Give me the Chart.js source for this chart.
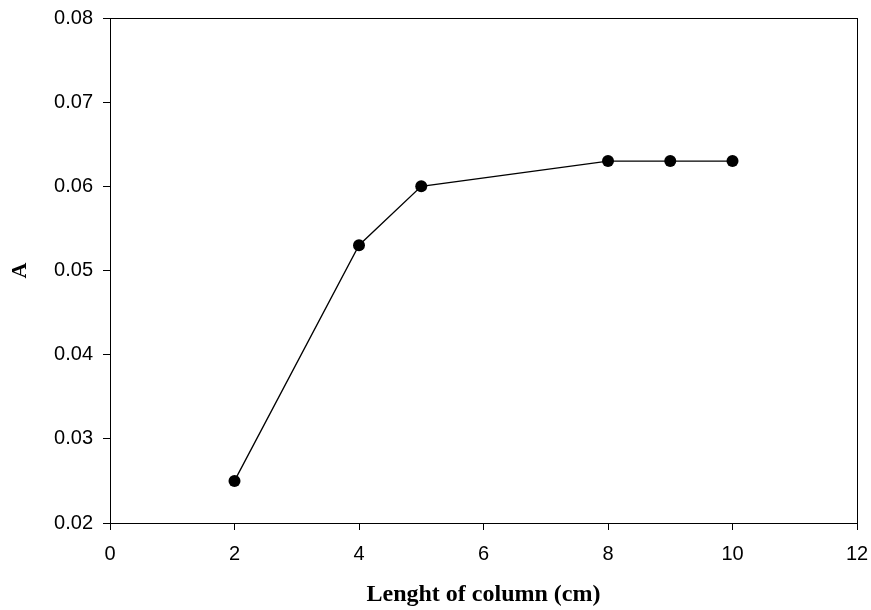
<!DOCTYPE html>
<html>
<head>
<meta charset="utf-8">
<script src="https://cdn.jsdelivr.net/npm/chart.js@4"></script>
<style>
  html, body { margin: 0; padding: 0; background: #fff; }
  #wrap { width: 871px; height: 610px; position: relative; }
</style>
</head>
<body>
<div id="wrap"><canvas id="chart"></canvas></div>
<script>
// Column length (cm) and measured absorbance A
const columnLength = [2, 4, 5, 8, 9, 10];
const absorbance = [0.025, 0.053, 0.060, 0.063, 0.063, 0.063];

const xTitle = 'Lenght of column (cm)';
const yTitle = 'A';

// Frame around the plot area (top and right sides included)
const frame = {
  id: 'frame',
  afterDraw(chart) {
    const { ctx, chartArea: a } = chart;
    ctx.save();
    ctx.strokeStyle = '#000';
    ctx.lineWidth = 1;
    ctx.strokeRect(Math.round(a.left) + 0.5, Math.round(a.top) + 0.5,
                   Math.round(a.right - a.left), Math.round(a.bottom - a.top));
    ctx.restore();
  }
};

const tickFont = { family: '"Liberation Sans", Arial, sans-serif', size: 20 };
const titleFont = { family: '"Liberation Serif", "Times New Roman", serif', size: 24, weight: 'bold' };
const yTitleFont = { family: '"Liberation Serif", "Times New Roman", serif', size: 22, weight: 'bold' };

new Chart(document.getElementById('chart'), {
  type: 'scatter',
  data: {
    datasets: [{
      data: columnLength.map((x, i) => ({ x, y: absorbance[i] })),
      showLine: true,
      borderColor: '#000',
      borderWidth: 1.3,
      backgroundColor: '#000',
      pointRadius: 6,
      pointHoverRadius: 6,
      pointBorderWidth: 0
    }]
  },
  options: {
    responsive: true,
    maintainAspectRatio: false,
    animation: false,
    layout: { padding: { top: 18, right: 14, left: 0, bottom: 0 } },
    plugins: { legend: { display: false }, tooltip: { enabled: false } },
    scales: {
      x: {
        type: 'linear',
        min: 0, max: 12,
        afterFit(s) { s.height = 87; s.paddingLeft = 0; s.paddingRight = 0; },
        ticks: { stepSize: 2, color: '#000', font: tickFont, padding: 12, maxRotation: 0 },
        grid: { drawOnChartArea: false, drawTicks: true, tickLength: 7, color: '#000' },
        border: { color: '#000', width: 1 },
        title: { display: true, text: xTitle, color: '#000', font: titleFont, padding: { bottom: 1 } }
      },
      y: {
        type: 'linear',
        min: 0.02, max: 0.08,
        afterFit(s) { s.width = 110; s.paddingTop = 0; s.paddingBottom = 0; },
        ticks: { stepSize: 0.01, color: '#000', font: tickFont, padding: 10,
                 callback: v => v.toFixed(2) },
        grid: { drawOnChartArea: false, drawTicks: true, tickLength: 7, color: '#000' },
        border: { color: '#000', width: 1 },
        title: { display: true, text: yTitle, color: '#000', font: yTitleFont, padding: { top: 7 } }
      }
    }
  },
  plugins: [frame]
});
</script>
</body>
</html>
